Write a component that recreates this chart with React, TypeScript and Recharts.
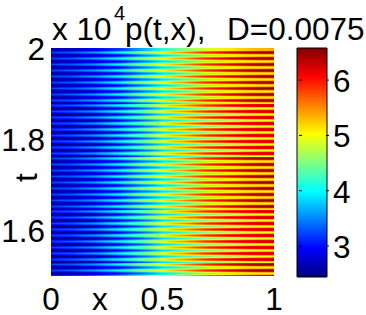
import React from "react";
import { BarChart, Bar, Cell, XAxis, YAxis } from "recharts";

const FONT = "'Liberation Sans', Arial, sans-serif";
const V_MIN = 2.44;
const V_MAX = 6.58;

const columnX = [0, 0.1, 0.2, 0.3, 0.4, 0.5, 0.6, 0.7, 0.8, 0.9, 1];
const troughProfile = [2.47, 2.52, 2.65, 2.88, 3.3, 3.85, 4.22, 4.52, 4.72, 4.86, 4.95];
const lowProfile = [2.66, 2.74, 2.9, 3.16, 3.62, 4.15, 4.55, 4.89, 5.11, 5.29, 5.38];
const highProfile = [3.03, 3.13, 3.35, 3.7, 4.25, 4.78, 5.2, 5.6, 5.85, 6.05, 6.15];
const crestProfile = [3.22, 3.34, 3.6, 3.97, 4.55, 5.05, 5.5, 5.92, 6.2, 6.4, 6.5];
const profiles = [troughProfile, lowProfile, highProfile, crestProfile];

// one digit per pixel row, top (t=2) to bottom (t=1.5): index into profiles
const stripes = [
  "1112",
  "321012", "321012", "321012", "321012", "321012", "321012", "321012", "321012", "32102",
  "321012", "321012", "321012", "321012", "321012", "321012", "321012", "321012", "32102",
  "321012", "321012", "321012", "321012", "321012", "321012", "321012", "321012", "32102",
  "321012", "321012", "321012", "321012", "321012", "321012", "321012", "321012", "32102",
  "321012", "321012",
];

const xTicks = [0, 0.5, 1];
const yTickRows: Record<number, string> = { 0: "2", 91: "1.8", 182: "1.6" };
const colorTicks = [3, 4, 5, 6];

const rows = stripes.join("").split("").map((c, i) => ({ row: i, span: 1, profile: Number(c) }));
const colorbar = [{ name: "p", range: [V_MIN, V_MAX] }];

function jet(t: number) {
  const c = (x: number) => Math.round(255 * Math.max(0, Math.min(1, 1.5 - Math.abs(4 * t - x))));
  return `rgb(${c(3)},${c(2)},${c(1)})`;
}
const colorOf = (v: number) => jet((v - V_MIN) / (V_MAX - V_MIN));
const jetStops = [0, 0.125, 0.25, 0.375, 0.5, 0.625, 0.75, 0.875, 1];

const textStyle = { fontFamily: FONT, fontSize: 31.5, fill: "#000" };

function ColorTick(props: any) {
  const { x, y, payload } = props;
  return (
    <g>
      <line x1={x - 30} x2={x - 27} y1={y} y2={y} stroke="#000" />
      <line x1={x - 3} x2={x} y1={y} y2={y} stroke="#000" />
      <text x={x + 4} y={y + 12} {...textStyle}>{payload.value}</text>
    </g>
  );
}

export default function App() {
  return (
    <div style={{ position: "absolute", left: 0, top: 0, width: 366, height: 315, background: "#fff", overflow: "hidden" }}>
      <div style={{ position: "absolute", left: 0, top: 0 }}>
        <BarChart
          width={366}
          height={315}
          data={rows}
          layout="vertical"
          barCategoryGap={0}
          margin={{ top: 48, right: 92, bottom: 0, left: 0 }}
        >
          <defs>
            {profiles.map((p, i) => (
              <linearGradient key={i} id={`profile${i}`} x1="0" x2="1" y1="0" y2="0">
                {p.map((v, j) => (
                  <stop key={j} offset={columnX[j]} stopColor={colorOf(v)} />
                ))}
              </linearGradient>
            ))}
          </defs>
          <XAxis
            type="number"
            dataKey="span"
            domain={[0, 1]}
            ticks={xTicks}
            axisLine={false}
            tickLine={false}
            tickSize={0}
            tick={textStyle}
            tickMargin={12}
            height={39}
            allowDataOverflow
            interval={0}
            label={{ value: "x", position: "insideBottomLeft", dx: 36, dy: 0, style: textStyle }}
          />
          <YAxis
            type="category"
            dataKey="row"
            width={51}
            ticks={[0, 91, 182]}
            interval={0}
            axisLine={false}
            tickLine={false}
            tickSize={0}
            tick={textStyle}
            tickMargin={6}
            tickFormatter={(r: number) => yTickRows[r] ?? ""}
            label={{ value: "t", angle: -90, position: "insideLeft", dx: 21, dy: 20, style: textStyle }}
          />
          <Bar dataKey="span" isAnimationActive={false}>
            {rows.map((r) => (
              <Cell key={r.row} fill={`url(#profile${r.profile})`} />
            ))}
          </Bar>
          <text x={52} y={40} {...textStyle}>x 10</text>
          <text x={114} y={20} {...textStyle} fontSize={20}>4</text>
          <text x={125} y={40} {...textStyle}>p(t,x),</text>
          <text x={227} y={40} {...textStyle}>D=0.0075</text>
        </BarChart>
      </div>
      <div style={{ position: "absolute", left: 290, top: 0 }}>
        <BarChart
          width={76}
          height={315}
          data={colorbar}
          barCategoryGap={0}
          margin={{ top: 48, right: 0, bottom: 38, left: 7 }}
        >
          <defs>
            <linearGradient id="jetBar" x1="0" x2="0" y1="1" y2="0">
              {jetStops.map((s) => (
                <stop key={s} offset={s} stopColor={jet(s)} />
              ))}
            </linearGradient>
          </defs>
          <XAxis dataKey="name" hide />
          <YAxis
            orientation="right"
            type="number"
            domain={[V_MIN, V_MAX]}
            ticks={colorTicks}
            width={39}
            axisLine={false}
            tickLine={false}
            tickSize={0}
            interval={0}
            tick={<ColorTick />}
          />
          <Bar dataKey="range" fill="url(#jetBar)" stroke="#000" strokeWidth={1} isAnimationActive={false} />
        </BarChart>
      </div>
    </div>
  );
}
